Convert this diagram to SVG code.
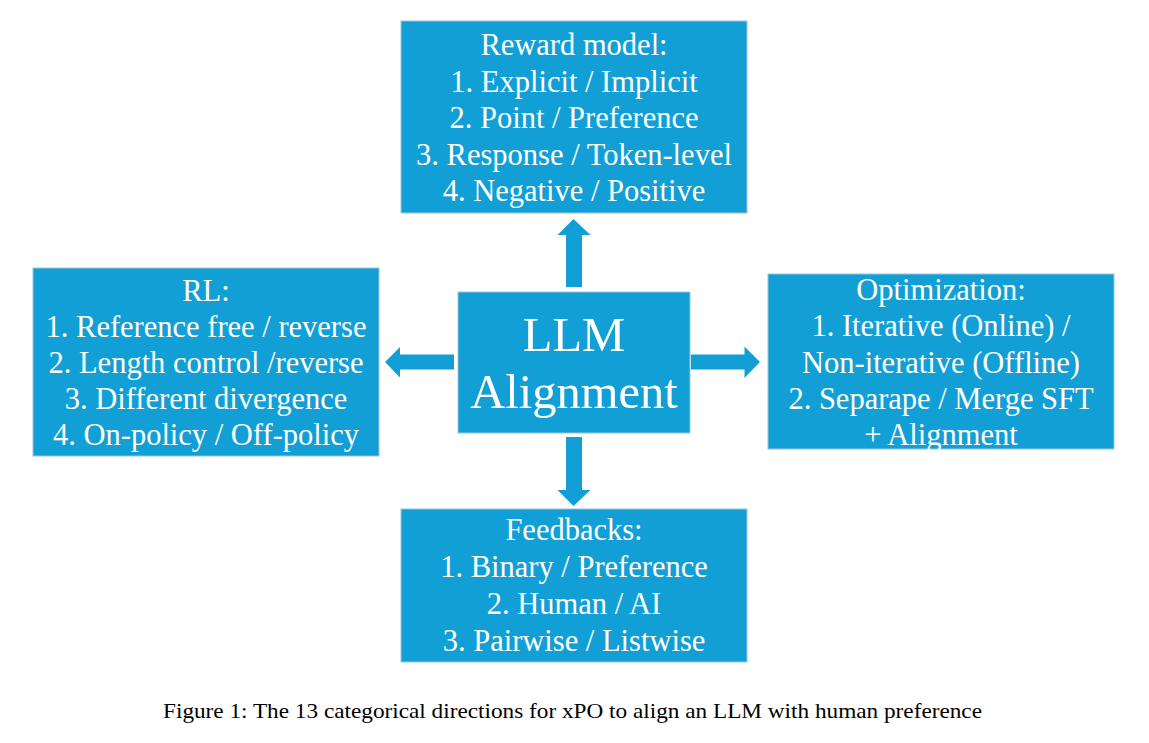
<svg xmlns="http://www.w3.org/2000/svg" width="1149" height="743" viewBox="0 0 1149 743">
<style>
.box{fill:#129fd6;stroke:#9cc4d8;stroke-width:1}
.t{font-family:"Liberation Serif","Times New Roman",serif;font-size:30.5px;fill:#ffffff;text-anchor:middle}
.big{font-size:48.5px}
.arrow{fill:#129fd6}
.cap{font-family:"Liberation Serif","Times New Roman",serif;font-size:21px;fill:#000000}
</style>
<rect width="1149" height="743" fill="#ffffff"/>
<g id="connectors">
<polygon class="arrow" points="566,287 566,235 557.5,235 573.5,219 590.5,235 582,235 582,287"/>
<polygon class="arrow" points="454,354.5 400,354.5 400,347 385,362 400,377.5 400,369.5 454,369.5"/>
<polygon class="arrow" points="691,354.5 744.5,354.5 744.5,346.5 760,362 744.5,378 744.5,369.5 691,369.5"/>
<polygon class="arrow" points="566,437 582,437 582,490 590.5,490 573.5,506 557.5,490 566,490"/>
</g>
<g id="reward">
<rect class="box" x="401" y="21" width="346" height="192"/>
<text class="t" x="574" y="55">Reward model:</text>
<text class="t" x="574" y="91.5">1. Explicit / Implicit</text>
<text class="t" x="574" y="128">2. Point / Preference</text>
<text class="t" x="574" y="164.5">3. Response / Token-level</text>
<text class="t" x="574" y="200.5">4. Negative / Positive</text>
</g>
<g id="rl">
<rect class="box" x="33" y="268" width="346" height="188"/>
<text class="t" x="206" y="300.5">RL:</text>
<text class="t" x="206" y="336.5">1. Reference free / reverse</text>
<text class="t" x="206" y="372.5">2. Length control /reverse</text>
<text class="t" x="206" y="409">3. Different divergence</text>
<text class="t" x="206" y="445">4. On-policy / Off-policy</text>
</g>
<g id="center">
<rect class="box" x="458" y="292" width="232" height="141"/>
<text class="t big" x="574" y="351">LLM</text>
<text class="t big" x="574" y="408">Alignment</text>
</g>
<g id="optimization">
<rect class="box" x="768" y="274" width="346" height="175"/>
<text class="t" x="941" y="300">Optimization:</text>
<text class="t" x="941" y="336">1. Iterative (Online) /</text>
<text class="t" x="941" y="373">Non-iterative (Offline)</text>
<text class="t" x="941" y="409">2. Separape / Merge SFT</text>
<text class="t" x="941" y="445">+ Alignment</text>
</g>
<g id="feedbacks">
<rect class="box" x="401" y="509" width="346" height="153"/>
<text class="t" x="574" y="540">Feedbacks:</text>
<text class="t" x="574" y="577">1. Binary / Preference</text>
<text class="t" x="574" y="614">2. Human / AI</text>
<text class="t" x="574" y="650.5">3. Pairwise / Listwise</text>
</g>
<text class="cap" x="163" y="718" textLength="819" lengthAdjust="spacingAndGlyphs">Figure 1: The 13 categorical directions for xPO to align an LLM with human preference</text>
</svg>
